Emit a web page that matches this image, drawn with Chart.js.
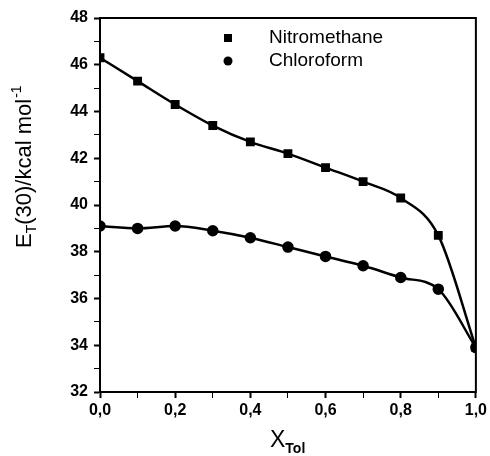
<!DOCTYPE html>
<html>
<head>
<meta charset="utf-8">
<script src="https://cdn.jsdelivr.net/npm/chart.js@4"></script>
<style>
  html, body { margin: 0; padding: 0; background: #fff; }
  #wrap { width: 490px; height: 456px; position: relative; }
</style>
</head>
<body>
<div id="wrap"><canvas id="canvas" width="490" height="456"></canvas></div>
<script>
// mole fraction of toluene
let xTol = [0.0, 0.1, 0.2, 0.3, 0.4, 0.5, 0.6, 0.7, 0.8, 0.9, 1.0];
let nitromethane = [46.3, 45.3, 44.3, 43.4, 42.7, 42.2, 41.6, 41.0, 40.3, 38.7, 33.9];
let chloroform = [39.1, 39.0, 39.1, 38.9, 38.6, 38.2, 37.8, 37.4, 36.9, 36.4, 33.9];
let seriesNames = ['Nitromethane', 'Chloroform'];
let yMin = 32, yMax = 48;
let xMin = 0, xMax = 1;

function toPoints(ys) {
  return xTol.map(function(x, i) { return { x: x, y: ys[i] }; });
}

let frameAndText = {
  id: 'frameAndText',
  afterDraw: function(chart) {
    let ctx = chart.ctx;
    let a = chart.chartArea;
    ctx.save();
    // plot frame
    ctx.strokeStyle = '#000';
    ctx.lineWidth = 2;
    ctx.strokeRect(a.left, a.top, a.right - a.left, a.bottom - a.top);

    // legend inside the plot
    let lx = a.left + 128;
    let ly = [a.top + 20, a.top + 43];
    ctx.fillStyle = '#000';
    ctx.fillRect(lx - 4, ly[0] - 4, 8, 8);
    ctx.beginPath();
    ctx.arc(lx, ly[1], 4.5, 0, Math.PI * 2);
    ctx.fill();
    ctx.font = '19px "Liberation Sans", Arial, sans-serif';
    ctx.textBaseline = 'middle';
    ctx.textAlign = 'left';
    ctx.fillText(seriesNames[0], lx + 41, ly[0]);
    ctx.fillText(seriesNames[1], lx + 41, ly[1]);

    // x axis title with subscript
    let bx = a.left + 170, by = a.bottom + 55;
    ctx.textBaseline = 'alphabetic';
    ctx.font = '23px "Liberation Sans", Arial, sans-serif';
    ctx.fillText('X', bx, by);
    let w = ctx.measureText('X').width;
    ctx.font = 'bold 14px "Liberation Sans", Arial, sans-serif';
    ctx.fillText('Tol', bx + w, by + 6);

    // y axis title, rotated, with sub and superscript
    ctx.translate(a.left - 69, a.top + 230);
    ctx.rotate(-Math.PI / 2);
    let x = 0;
    ctx.font = '22px "Liberation Sans", Arial, sans-serif';
    ctx.fillText('E', x, 0); x += ctx.measureText('E').width;
    ctx.font = '14px "Liberation Sans", Arial, sans-serif';
    ctx.fillText('T', x, 5); x += ctx.measureText('T').width;
    ctx.font = '22px "Liberation Sans", Arial, sans-serif';
    ctx.fillText('(30)/kcal mol', x, 0); x += ctx.measureText('(30)/kcal mol').width;
    ctx.font = '14px "Liberation Sans", Arial, sans-serif';
    ctx.fillText('-1', x + 1, -10);
    ctx.restore();
  }
};

let ctx = document.getElementById('canvas').getContext('2d');
let config = {
  type: 'line',
  data: {
    datasets: [{
      label: seriesNames[0],
      data: toPoints(nitromethane),
      borderColor: '#000',
      backgroundColor: '#000',
      borderWidth: 2.5,
      pointStyle: 'rect',
      pointRadius: 4.5,
      cubicInterpolationMode: 'monotone',
      fill: false
    }, {
      label: seriesNames[1],
      data: toPoints(chloroform),
      borderColor: '#000',
      backgroundColor: '#000',
      borderWidth: 2.5,
      pointStyle: 'circle',
      pointRadius: 4.5,
      cubicInterpolationMode: 'monotone',
      fill: false
    }]
  },
  options: {
    responsive: false,
    animation: false,
    layout: { padding: { top: 18, right: 14, left: 0, bottom: 0 } },
    plugins: { legend: { display: false }, tooltip: { enabled: false } },
    scales: {
      x: {
        type: 'linear',
        min: xMin, max: xMax,
        afterFit: function(s) { s.height = 64; },
        border: { color: '#000', width: 2 },
        grid: {
          drawOnChartArea: false, tickLength: 6, tickColor: '#000',
          tickWidth: function(c) { return Math.round(c.tick.value * 10) % 2 === 0 ? 2 : 1; }
        },
        ticks: {
          stepSize: 0.1, autoSkip: false, maxRotation: 0, padding: 3, color: '#000',
          font: { family: '"Liberation Sans", Arial, sans-serif', size: 16, weight: 'bold' },
          callback: function(v) {
            let k = Math.round(v * 10);
            return k % 2 === 0 ? (k / 10).toFixed(1).replace('.', ',') : '';
          }
        }
      },
      y: {
        min: yMin, max: yMax,
        afterFit: function(s) { s.width = 100; },
        border: { color: '#000', width: 2 },
        grid: {
          drawOnChartArea: false, tickLength: 6, tickColor: '#000',
          tickWidth: function(c) { return c.tick.value % 2 === 0 ? 2 : 1; }
        },
        ticks: {
          stepSize: 1, autoSkip: false, padding: 6, color: '#000',
          font: { family: '"Liberation Sans", Arial, sans-serif', size: 16, weight: 'bold' },
          callback: function(v) { return v % 2 === 0 ? String(v) : ''; }
        }
      }
    }
  },
  plugins: [frameAndText]
};
let chart = new Chart(ctx, config);
</script>
</body>
</html>
